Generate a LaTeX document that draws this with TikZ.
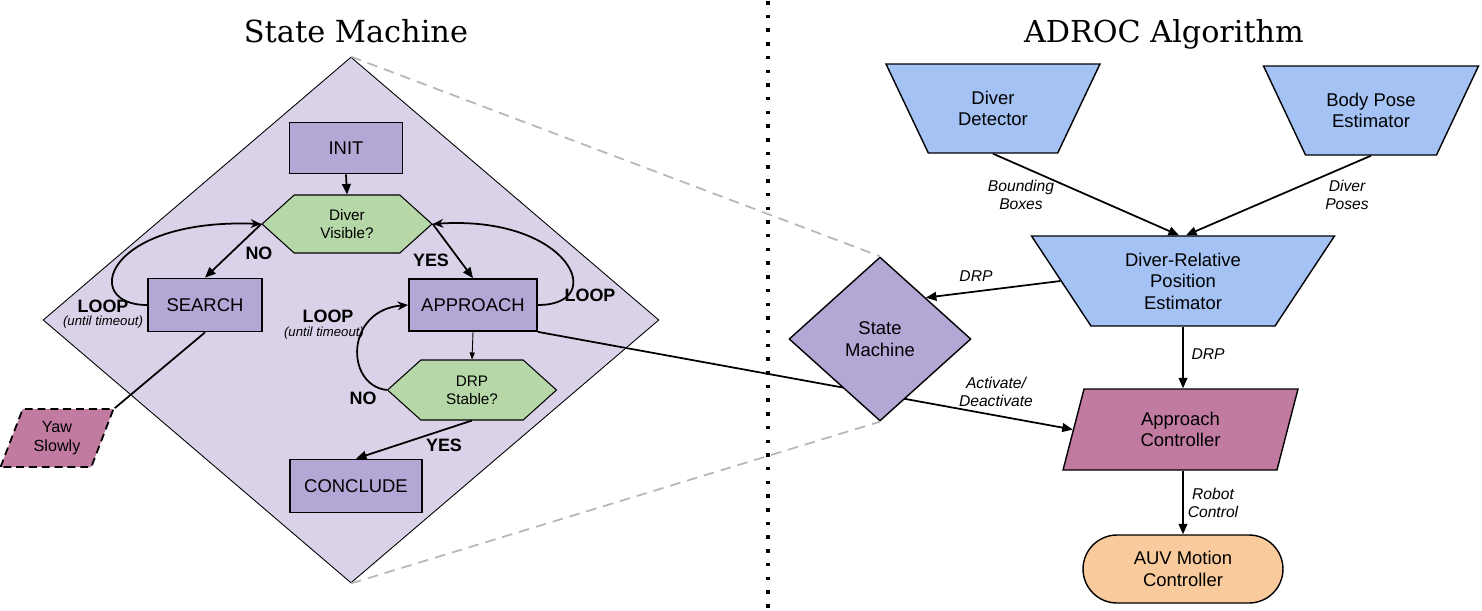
\documentclass[tikz,border=0pt]{standalone}
\usepackage{fontspec}
\setmainfont{Liberation Sans}
\newfontfamily\titlefont{DejaVu Serif}
\usetikzlibrary{arrows.meta}
\usetikzlibrary{shapes.geometric}
\usetikzlibrary{shapes.symbols}

\definecolor{smarea}{HTML}{D9D2E9}
\definecolor{smbox}{HTML}{B4A7D6}
\definecolor{smcheck}{HTML}{B6D7A8}
\definecolor{netblue}{HTML}{A4C2F4}
\definecolor{ctrlpink}{HTML}{C27BA0}
\definecolor{auvorange}{HTML}{F9CB9C}
\definecolor{zoomgray}{HTML}{B7B7B7}

\begin{document}
\begin{tikzpicture}[x=0.02cm, y=-0.02cm,
    state/.style={draw, line width=1pt, fill=smbox, font=\fontsize{10.5}{12}\selectfont},
    check/.style={signal, signal to=west and east, signal pointer angle=84, draw, line width=0.6pt,
        fill=smcheck, align=center, inner sep=0pt, font=\fontsize{8.7}{10.2}\selectfont},
    net/.style={trapezium, shape border rotate=180, trapezium stretches body, draw, line width=0.8pt,
        fill=netblue, align=center, inner sep=0pt, font=\fontsize{10.5}{12.2}\selectfont},
    ctrl/.style={trapezium, trapezium stretches body, draw, line width=0.8pt,
        fill=ctrlpink, align=center, inner sep=0pt, font=\fontsize{10.5}{12.2}\selectfont},
    flow/.style={line width=1pt, -{Triangle[length=6pt, width=5pt]}},
    loopflow/.style={line width=1pt, -{Stealth[length=6pt, width=5pt]}},
    edgelabel/.style={align=center, font=\fontsize{8.9}{10.2}\selectfont\itshape},
    answer/.style={font=\fontsize{10.2}{12}\selectfont\bfseries},
    timeout/.style={font=\fontsize{7.5}{9}\selectfont\itshape},
    zoomline/.style={zoomgray, line width=1pt, dash pattern=on 6pt off 4pt}]

    \useasboundingbox (0,0) rectangle (1482,610);

    % titles and divider
    \node[anchor=base, font=\titlefont\fontsize{17.3}{20}\selectfont] (smtitle) at (356,42) {State Machine};
    \node[anchor=base, font=\titlefont\fontsize{17.2}{20}\selectfont] (adroctitle) at (1164,42) {ADROC Algorithm};
    \draw[line width=2pt, dash pattern=on 2pt off 5.8pt] (768,1) -- (768,610);

    % state machine
    \node[diamond, draw, line width=0.5pt, fill=smarea, minimum width=12.32cm, minimum height=10.52cm, inner sep=0pt] (area) at (351,320) {};

    \node[state, minimum width=2.26cm, minimum height=1.02cm] (init) at (346,148) {INIT};
    \node[check, minimum width=3.4cm, minimum height=1.16cm] (visible) at (347,224) {Diver\\Visible?};
    \node[state, minimum width=2.28cm, minimum height=1.06cm] (search) at (205,305) {SEARCH};
    \node[state, minimum width=2.56cm, minimum height=1.04cm] (approach) at (473,305) {APPROACH};
    \node[check, minimum width=3.38cm, minimum height=1.2cm] (stable) at (472,390) {DRP\\Stable?};
    \node[state, minimum width=2.64cm, minimum height=1.06cm] (conclude) at (356,486) {CONCLUDE};
    \node[ctrl, line width=1pt, dash pattern=on 4.5pt off 2.8pt, trapezium left angle=56, trapezium right angle=124,
        minimum width=2.26cm, minimum height=1.16cm, font=\fontsize{9.2}{10.5}\selectfont] (yaw) at (57,438) {Yaw\\Slowly};

    \draw[flow] (init.south) -- (visible.north);
    \draw[flow] (visible.west) -- (search.north);
    \draw[flow] (visible.east) -- (approach.north);
    \draw[loopflow] (search.west) .. controls (80,305) and (105,218) .. (visible.west);
    \draw[loopflow] (approach.east) .. controls (610,305) and (570,215) .. (visible.east);
    \draw[line width=0.5pt, -{Triangle[length=4pt, width=3pt]}] (approach.south) -- (stable.north);
    \draw[loopflow] (stable.west) .. controls (345,385) and (345,310) .. (approach.west);
    \draw[flow] (stable.south) -- (conclude.north);
    \draw[line width=1pt] (search.south) -- (yaw.top right corner);

    \node[answer] (visibleno) at (259,253) {NO};
    \node[answer] (visibleyes) at (431,260) {YES};
    \node[answer] (searchloop) at (103,306) {LOOP};
    \node[timeout] (searchtimeout) at (103,322) {(until timeout)};
    \node[answer] (approachloop) at (590,295) {LOOP};
    \node[answer] (stableloop) at (328,316) {LOOP};
    \node[timeout] (stabletimeout) at (324,333) {(until timeout)};
    \node[answer] (stableno) at (363,398) {NO};
    \node[answer] (stableyes) at (444,445) {YES};

    % ADROC algorithm
    \node[net, trapezium left angle=39.6, trapezium right angle=39.6, minimum width=4.28cm, minimum height=1.78cm] (detector) at (993,108.5) {Diver\\Detector};
    \node[net, trapezium left angle=39.8, trapezium right angle=39.8, minimum width=4.3cm, minimum height=1.78cm] (bodypose) at (1371,110.5) {Body Pose\\Estimator};
    \node[net, trapezium left angle=43.5, trapezium right angle=43.5, minimum width=6.06cm, minimum height=1.8cm] (drpe) at (1183,281) {Diver-Relative\\Position\\Estimator};
    \node[ctrl, trapezium left angle=59, trapezium right angle=121, minimum width=4.7cm, minimum height=1.62cm] (controller) at (1180.5,429.5) {Approach\\Controller};
    \node[draw, line width=0.8pt, fill=auvorange, rounded corners=0.68cm, minimum width=4cm, minimum height=1.36cm,
        align=center, font=\fontsize{10.5}{12.2}\selectfont] (auv) at (1183,569) {AUV Motion\\Controller};

    \draw[flow] (approach.south east) -- (controller.west);

    \node[diamond, draw, line width=0.8pt, fill=smbox, minimum width=3.64cm, minimum height=3.28cm, inner sep=0pt,
        align=center, font=\fontsize{10.5}{12.3}\selectfont] (sm) at (880,339) {State\\Machine};

    \draw[zoomline] (area.north) -- (sm.north);
    \draw[zoomline] (area.south) -- (sm.south);

    \draw[flow] (detector.south) -- ([xshift=-0.08cm]drpe.north);
    \draw[flow] (bodypose.south) -- ([xshift=0.06cm]drpe.north);
    \draw[flow] (drpe.west) -- (sm.north east);
    \draw[flow] (drpe.south) -- (drpe.south |- controller.north);
    \draw[flow] (auv.north |- controller.south) -- (auv.north);

    \node[edgelabel] (boxeslabel) at (1021,195) {Bounding\\Boxes};
    \node[edgelabel] (poseslabel) at (1347,195) {Diver\\Poses};
    \node[edgelabel] (drplabel) at (976,276) {DRP};
    \node[edgelabel] (drpdownlabel) at (1208,354) {DRP};
    \node[edgelabel] (activatelabel) at (996,392) {Activate/\\Deactivate};
    \node[edgelabel] (robotlabel) at (1213,503) {Robot\\Control};
\end{tikzpicture}
\end{document}
